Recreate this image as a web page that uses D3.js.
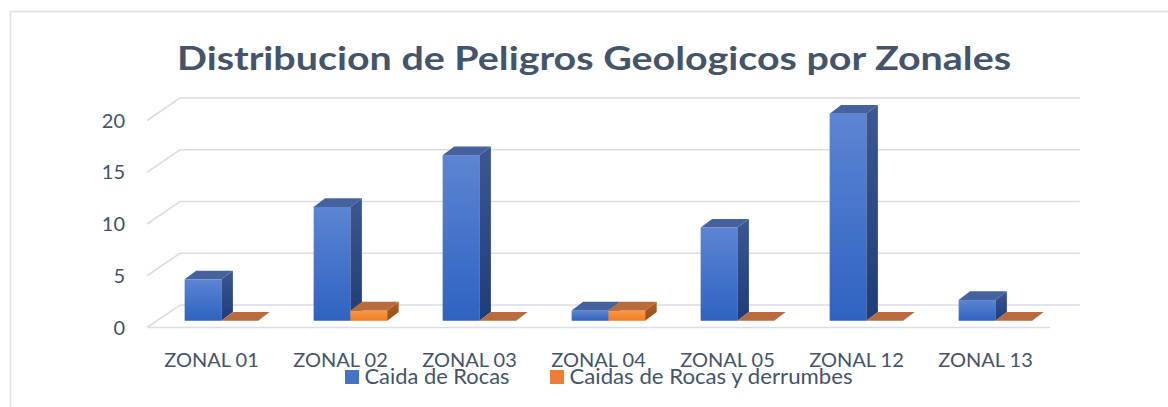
<!DOCTYPE html>
<html>
<head>
<meta charset="utf-8">
<script src="https://cdn.jsdelivr.net/npm/d3@7"></script>
<style>
  html, body { margin: 0; padding: 0; background: #fff; }
  svg { display: block; }
  text { font-family: Lato, "Open Sans", sans-serif; fill: #44546a; }
</style>
</head>
<body>
<svg id="chart" width="1168" height="407"></svg>
<script>
const categories = ["ZONAL 01", "ZONAL 02", "ZONAL 03", "ZONAL 04", "ZONAL 05", "ZONAL 12", "ZONAL 13"];
const seriesNames = ["Caida de Rocas", "Caidas de Rocas y derrumbes"];
const caidaRocas = [4, 11, 16, 1, 9, 20, 2];
const caidasDerrumbes = [0, 1, 0, 1, 0, 0, 0];
const yTicks = [0, 5, 10, 15, 20];
const titleText = "Distribucion de Peligros Geologicos por Zonales";

const seriesValues = [caidaRocas, caidasDerrumbes];

const svg = d3.select("#chart");
const W = 1168, H = 407;

// chart frame
svg.append("path")
  .attr("d", `M10.5,${H + 2}V11.5H${W + 2}`)
  .attr("fill", "none").attr("stroke", "#dfe3ea").attr("stroke-width", 1.5);

// geometry
const frontLeft = 147, frontRight = 1050, frontBase = 327.5;
const depthX = 33, depthY = -22.5;
const barDepthStart = 0.30, barDX = 11.5, barDY = -8.7;

const y = d3.scaleLinear().domain([0, 20]).range([0, 207]);
const x = d3.scaleBand().domain(categories).range([frontLeft, frontRight])
  .paddingInner(0.43).paddingOuter(0.215);
const xs = d3.scaleBand().domain(seriesNames).range([0, x.bandwidth()]).padding(0);
const xLabel = d3.scaleBand().domain(categories).range([frontLeft, frontRight]);

// gradients
const defs = svg.append("defs");
function grad(id, c1, c2) {
  const g = defs.append("linearGradient").attr("id", id)
    .attr("x1", 0).attr("y1", 0).attr("x2", 0).attr("y2", 1);
  g.append("stop").attr("offset", "0%").attr("stop-color", c1);
  g.append("stop").attr("offset", "100%").attr("stop-color", c2);
}
grad("blueFront", "#5c85d3", "#2f62c2");
grad("blueSide", "#3c5791", "#1f3c7a");
grad("orangeFront", "#f79a4a", "#f27a1f");
grad("orangeSide", "#b0612a", "#9a4a12");
const styles = [
  { front: "url(#blueFront)", side: "url(#blueSide)", top: "#45629e", legend: "#4472c4" },
  { front: "url(#orangeFront)", side: "url(#orangeSide)", top: "#b96b3d", legend: "#ed7d31" }
];

// gridlines (side wall diagonal + back wall)
const grid = svg.append("g").attr("fill", "none").attr("stroke", "#d9dde4").attr("stroke-width", 1.6);
yTicks.forEach(t => {
  const fy = frontBase - y(t);
  grid.append("path")
    .attr("d", `M${frontLeft},${fy}L${frontLeft + depthX},${fy + depthY}H${frontRight + 30}`);
});
// floor front edge
grid.append("path").attr("d", `M${frontLeft},${frontBase}H${frontRight}`);

// y tick labels
svg.append("g").selectAll("text").data(yTicks).join("text")
  .attr("x", 125).attr("y", d => frontBase - y(d))
  .attr("dy", "0.36em")
  .attr("text-anchor", "end").attr("font-size", 20)
  .text(d => d);

// bars
const baseY = frontBase + depthY * barDepthStart;
const offX = depthX * barDepthStart;
const bars = svg.append("g");
categories.forEach((c, i) => {
  seriesNames.forEach((s, j) => {
    const v = seriesValues[j][i];
    const x0 = x(c) + xs(s) + offX;
    const x1 = x0 + xs.bandwidth();
    const top = baseY - y(v);
    const st = styles[j];
    if (v > 0) {
      bars.append("rect").attr("x", x0).attr("y", top).attr("width", x1 - x0).attr("height", baseY - top)
        .attr("fill", st.front);
      bars.append("path")
        .attr("d", `M${x1},${top}L${x1 + barDX},${top + barDY}V${baseY + barDY}L${x1},${baseY}Z`)
        .attr("fill", st.side);
    }
    bars.append("path")
      .attr("d", `M${x0},${top}H${x1}L${x1 + barDX},${top + barDY}H${x0 + barDX}Z`)
      .attr("fill", st.top);
  });
});

// category labels
svg.append("g").selectAll("text").data(categories).join("text")
  .attr("x", d => xLabel(d) + xLabel.bandwidth() / 2)
  .attr("y", 366.5)
  .attr("text-anchor", "middle").attr("font-size", 20)
  .text(d => d);

// legend
const legendX = [345, 550];
const legendW = [145, 283];
const leg = svg.append("g");
seriesNames.forEach((s, j) => {
  leg.append("rect").attr("x", legendX[j]).attr("y", 370).attr("width", 14).attr("height", 14)
    .attr("fill", styles[j].legend);
  leg.append("text").attr("x", legendX[j] + 19.5).attr("y", 384)
    .attr("font-size", 20.5)
    .attr("textLength", legendW[j]).attr("lengthAdjust", "spacingAndGlyphs")
    .text(s);
});

// title
svg.append("text")
  .attr("x", 177).attr("y", 69.5)
  .attr("font-size", 32).attr("font-weight", "bold")
  .attr("textLength", 834).attr("lengthAdjust", "spacingAndGlyphs")
  .text(titleText);
</script>
</body>
</html>
